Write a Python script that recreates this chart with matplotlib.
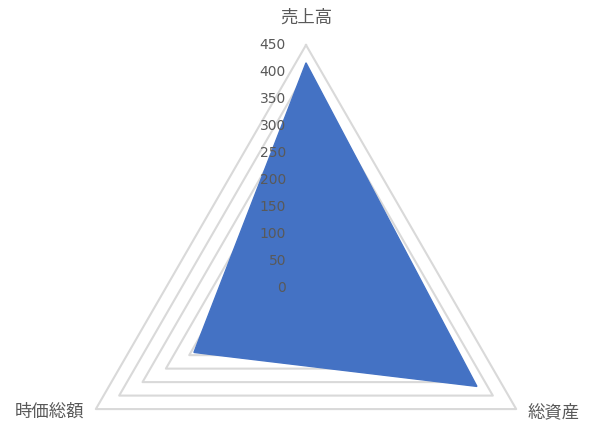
import numpy as np
import matplotlib.pyplot as plt

plt.rcParams['font.family'] = ['Noto Sans CJK JP', 'DejaVu Sans']

categories = ['売上高', '総資産', '時価総額']
values = [417, 366, 240]
ticks = [0, 50, 100, 150, 200, 250, 300, 350, 400, 450]

theta = np.linspace(0, 2 * np.pi, len(categories), endpoint=False)
theta_c = np.append(theta, theta[0])

fig = plt.figure(figsize=(5.95, 4.33), dpi=100)
ax = fig.add_axes([0.1064, -0.225, 0.8158, 1.121], projection='polar')
ax.set_theta_offset(np.pi / 2)
ax.set_theta_direction(-1)
ax.set_ylim(0, 450)
ax.patch.set_visible(False)
ax.spines['polar'].set_visible(False)
ax.grid(False)
ax.set_xticks([])
ax.set_yticks([])

# triangle grid
for t in ticks[1:]:
    ax.plot(theta_c, [t] * len(theta_c), color='#D9D9D9', lw=1.5, zorder=1, clip_on=False)

# data
v = np.append(values, values[0])
ax.fill(theta_c, v, color='#4472C4', zorder=2, clip_on=False)

# tick labels
for t in ticks:
    ax.annotate(str(t), xy=(0, t), xytext=(-14.4, 0), textcoords='offset points',
                ha='right', va='center', fontsize=10, color='#595959',
                family=['DejaVu Sans'], zorder=3, annotation_clip=False)

# category labels
offsets = [((0, 20), 'center', 'center'), ((8, -2), 'left', 'center'), ((-8, -2), 'right', 'center')]
for th, lab, (off, ha, va) in zip(theta, categories, offsets):
    ax.annotate(lab, xy=(th, 450), xytext=off, textcoords='offset points',
                ha=ha, va=va, fontsize=12.5, color='#595959', annotation_clip=False)

fig.savefig('out.png', dpi=100)
